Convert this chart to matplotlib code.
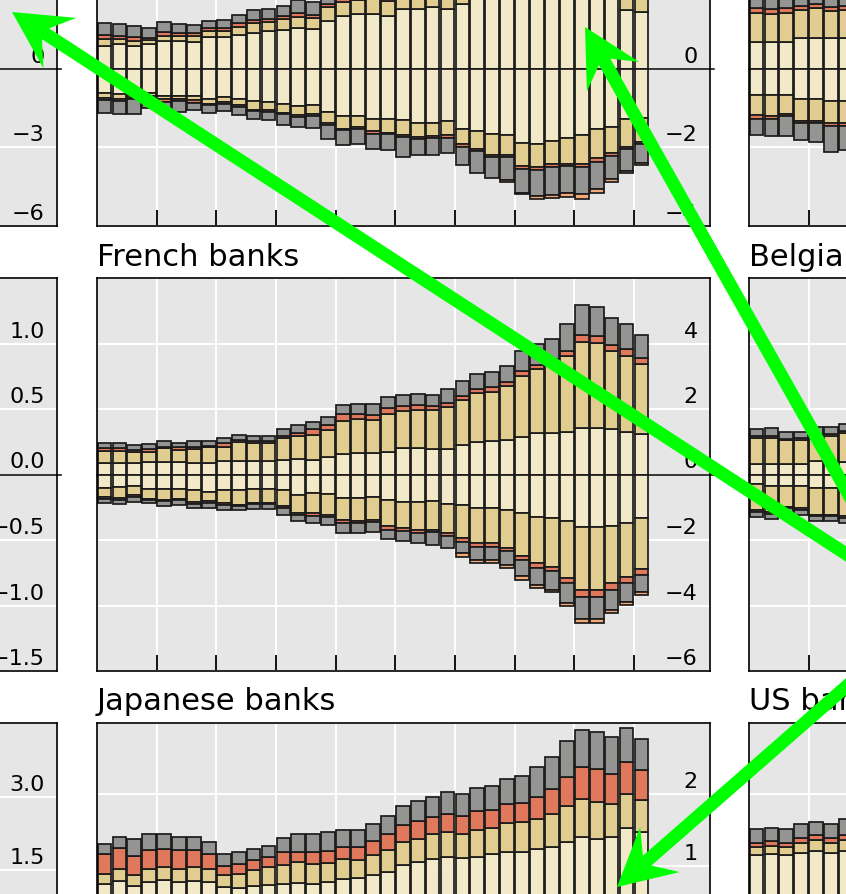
import numpy as np
import matplotlib
matplotlib.use("Agg")
import matplotlib.pyplot as plt
from matplotlib.patches import Polygon

plt.rcParams['font.family'] = ['DejaVu Sans']

W, H = 846, 894

LIGHT = '#F2E9C9'
TAN = '#E2CD90'
RED = '#E0785C'
GREY = '#949593'
PEACH = '#F4AA78'
BG = '#E6E6E6'
EDGE = '#1A1A1A'

# ---- top row, centre panel (quarterly, 37 bars) ----
top_light_pos = [.59, .62, .59, .62, .70, .72, .68, .80, .82, .86, .91, .95, .99, 1.04, 1.01, 1.22, 1.35, 1.39, 1.39,
                 1.35, 1.52, 1.52, 1.56, 1.52, 1.66, 1.85, 1.95, 2.0, 2.2, 2.25, 2.2, 2.15, 2.1, 2.0, 1.85, 1.49, 1.45]
top_tan_pos = [.17, .14, .13, .11, .14, .12, .16, .17, .15, .21, .25, .23, .28, .28, .28, .36, .34, .35, .38, .38,
               .40, .42, .40, .44, .42, .45, .46, .48, .50, .52, .50, .48, .50, .48, .46, .44, .42]
top_red_pos = [.11, .08, .08, .05, .09, .07, .06, .07, .07, .09, .08, .09, .08, .10, .09, .07, .09, .09, .09, .09,
               .10, .10, .10, .11, .10, .11, .12, .12, .12, .13, .12, .12, .13, .12, .12, .11, .10]
top_grey_pos = [.29, .30, .30, .26, .25, .23, .22, .18, .20, .22, .25, .25, .25, .34, .31, .30, .30, .30, .32, .32,
                .33, .34, .34, .35, .36, .37, .38, .40, .42, .44, .43, .42, .42, .40, .38, .36, .35]
top_light_neg = [.62, .65, .69, .62, .68, .69, .68, .78, .72, .78, .82, .84, .89, .95, .93, 1.10, 1.21, 1.21, 1.27,
                 1.27, 1.31, 1.39, 1.39, 1.32, 1.52, 1.58, 1.66, 1.69, 1.90, 1.92, 1.83, 1.75, 1.69, 1.54, 1.48,
                 1.27, 1.25]
top_tan_neg = [.12, .13, .05, .07, .10, .09, .12, .11, .12, .15, .22, .21, .23, .23, .23, .28, .31, .27, .32, .36,
               .38, .34, .32, .37, .40, .45, .53, .50, .57, .57, .59, .66, .73, .74, .66, .71, .62]
top_red_neg = [.06, .05, .04, .04, .06, .05, .06, .02, .05, .04, .04, .05, .04, .04, .05, .05, .04, .06, .06, .04,
               .04, .06, .06, .06, .06, .05, .05, .05, .09, .08, .09, .06, .09, .08, .07, .06, .05]
top_grey_neg = [.32, .31, .36, .27, .24, .27, .19, .21, .19, .21, .20, .21, .26, .26, .29, .36, .38, .38, .38, .40,
                .51, .40, .42, .40, .47, .56, .54, .59, .59, .66, .70, .69, .68, .70, .60, .55, .47]
top_peach_neg = [0] * 27 + [.04, .03, .08, .08, .09, .12, .10, .08, .05, .06]

# ---- French banks ----
fr_light_pos = [.34, .34, .34, .37, .39, .37, .35, .35, .40, .42, .42, .40, .45, .47, .45, .53, .63, .65, .65, .70,
                .80, .80, .78, .78, .91, .98, 1.03, 1.05, 1.16, 1.28, 1.28, 1.30, 1.43, 1.41, 1.38, 1.31, 1.23]
fr_tan_pos = [.39, .39, .34, .31, .41, .39, .43, .48, .45, .56, .54, .56, .66, .71, .76, .83, 1.01, 1.04, 1.02, 1.14,
              1.14, 1.16, 1.18, 1.28, 1.35, 1.51, 1.50, 1.65, 1.84, 1.94, 2.12, 2.33, 2.63, 2.62, 2.38, 2.32, 2.14]
fr_red_pos = [.07, .07, .08, .10, .05, .07, .07, .05, .10, .07, .07, .07, .07, .10, .17, .16, .20, .17, .15, .20,
              .15, .16, .13, .13, .15, .13, .14, .12, .15, .13, .14, .15, .20, .20, .20, .20, .19]
fr_grey_pos = [.15, .15, .14, .15, .16, .14, .16, .15, .15, .16, .16, .16, .22, .23, .23, .25, .28, .30, .32, .32,
               .35, .34, .35, .41, .44, .45, .45, .50, .61, .63, .59, .82, .91, .89, .81, .76, .70]
fr_light_neg = [.40, .38, .36, .43, .45, .43, .48, .52, .48, .46, .43, .45, .48, .62, .57, .59, .72, .72, .69, .79,
                .84, .84, .82, .89, .94, 1.02, 1.02, 1.09, 1.19, 1.31, 1.34, 1.41, 1.60, 1.60, 1.58, 1.47, 1.34]
fr_tan_neg = [.29, .33, .28, .31, .32, .31, .36, .30, .39, .46, .43, .41, .49, .57, .62, .65, .67, .69, .70, .79,
              .79, .86, .88, .91, 1.01, 1.08, 1.08, 1.16, 1.29, 1.40, 1.47, 1.75, 1.94, 1.94, 1.73, 1.66, 1.55]
fr_red_neg = [.06, .06, .05, .03, .04, .05, .05, .05, .05, .05, .03, .04, .04, .05, .07, .05, .10, .08, .07, .10,
              .09, .10, .07, .07, .10, .10, .10, .08, .13, .13, .13, .15, .20, .20, .23, .18, .17]
fr_grey_neg = [.12, .12, .15, .10, .16, .15, .13, .14, .15, .12, .16, .16, .23, .17, .23, .26, .31, .31, .29, .30,
               .30, .30, .38, .38, .35, .41, .41, .43, .50, .52, .58, .61, .68, .68, .60, .59, .54]
fr_peach_neg = [0] * 24 + [.11, .08, .08, .08, .10, .10, .08, .08, .11, .11, .10, .07, .07]

# ---- Japanese banks ----
jp_light = [.75, .79, .72, .77, .80, .78, .79, .77, .70, .69, .72, .73, .74, .76, .75, .77, .81, .83, .87, .91,
            1.01, 1.06, 1.10, 1.13, 1.11, 1.13, 1.16, 1.20, 1.20, 1.23, 1.26, 1.33, 1.40, 1.38, 1.40, 1.53, 1.48]
jp_tan = [.14, .16, .15, .19, .19, .18, .19, .19, .17, .20, .22, .26, .27, .30, .28, .27, .28, .25, .28, .31,
          .32, .31, .34, .34, .34, .37, .37, .40, .41, .42, .46, .51, .54, .52, .47, .47, .44]
jp_red = [.27, .30, .27, .26, .25, .26, .24, .20, .13, .13, .14, .14, .19, .14, .17, .17, .17, .18, .20, .23,
          .24, .26, .24, .25, .25, .27, .25, .26, .27, .32, .36, .41, .44, .46, .41, .46, .42]
jp_grey = [.15, .15, .23, .22, .20, .19, .19, .18, .16, .17, .16, .15, .19, .25, .24, .26, .24, .24, .24, .25,
           .27, .28, .29, .31, .31, .32, .34, .36, .38, .41, .45, .50, .52, .52, .53, .47, .44]

# ---- right column, first quarters ----
tr_light_pos = [.68, .68, .68, .78, .78, .78, .78]
tr_tan_pos = [.75, .72, .75, .72, .77, .68, .72]
tr_red_pos = [.12, .13, .12, .11, .10, .12, .11]
tr_grey_pos = [.30, .30, .30, .30, .25, .30, .30]
tr_light_neg = [.66, .66, .66, .77, .77, .81, .81]
tr_tan_neg = [.51, .55, .48, .55, .55, .58, .58]
tr_red_neg = [.10, .07, .07, .07, .07, .07, .07]
tr_grey_neg = [.41, .42, .51, .43, .48, .65, .61]

be_light_pos = [.31, .33, .33, .33, .40, .38, .38]
be_tan_pos = [.81, .79, .72, .72, .79, .81, .90]
be_red_pos = [.05, .05, .04, .06, .05, .05, .05]
be_grey_pos = [.22, .24, .22, .20, .20, .20, .20]
be_light_neg = [.30, .34, .34, .34, .42, .42, .40]
be_tan_neg = [.78, .81, .65, .68, .81, .81, .87]
be_red_neg = [.05, .05, .04, .05, .05, .05, .05]
be_grey_neg = [.17, .15, .22, .17, .15, .15, .17]

us_light = [1.15, 1.17, 1.15, 1.18, 1.21, 1.18, 1.21]
us_tan = [.11, .11, .11, .14, .15, .14, .15]
us_red = [.06, .07, .06, .07, .07, .07, .07]
us_grey = [.19, .18, .19, .19, .19, .19, .22]

fig = plt.figure(figsize=(W / 100, H / 100), dpi=100)

COLS = [-556, 97, 749]          # panel left edges, px
ROWS = [-167, 278, 723]         # panel top edges, px
PW, PH = 613, 393
LABEL_UP = 12                   # value labels sit this many px above their gridline


def minus(s):
    return s.replace('-', '\u2212')


def panel(col, row, ylim, step, fmt, title=None):
    l, t = COLS[col], ROWS[row]
    lo, hi = ylim
    ax = fig.add_axes([l / W, 1 - (t + PH) / H, PW / W, PH / H])
    ax.set_facecolor(BG)
    ax.set_xlim(0, 41.1)
    ax.set_ylim(lo, hi)
    ticks = np.arange(np.ceil(lo / step - 1e-9) * step, hi + step / 2, step)
    ticks = ticks[ticks <= hi + 1e-9]
    ax.set_xticks(np.arange(4, 37, 4))
    ax.set_yticks(ticks)
    ax.grid(True, color='white', lw=1.4)
    ax.set_axisbelow(True)
    ax.tick_params(axis='x', direction='in', length=11.5, width=1.3, color='black',
                   labelbottom=False)
    ax.tick_params(axis='y', length=0, labelleft=False)
    for sp in ax.spines.values():
        sp.set_linewidth(1.2)
        sp.set_color('black')
        sp.set_zorder(5)
    ax.axhline(0, color='black', lw=1.1, xmax=1.006, clip_on=False, zorder=1.5)
    for v in ticks:
        if abs(v - hi) < 1e-9:
            continue  # the top value has no room inside the frame
        y_px = t + (hi - v) / (hi - lo) * PH - LABEL_UP
        if y_px < 6 or y_px > H - 6:
            continue
        ax.annotate(minus(fmt.format(v + 0.0)), xy=(0.98, v), xycoords=('axes fraction', 'data'),
                    xytext=(0, LABEL_UP * 0.72), textcoords='offset points', ha='right', va='center',
                    fontsize=16, color='black')
    if title:
        ax.annotate(title, xy=(0, 1), xycoords='axes fraction', xytext=(0, 9),
                    textcoords='offset points', ha='left', va='baseline', fontsize=22)
    return ax


def stack(ax, pos, neg=()):
    n = len(pos[0])
    x = np.arange(n) + 0.5
    base = np.zeros(n)
    for vals, c in zip(pos, [LIGHT, TAN, RED, GREY]):
        v = np.asarray(vals, float)
        m = v > 0
        ax.bar(x[m], v[m], 0.92, bottom=base[m], color=c, edgecolor=EDGE, lw=1.25, zorder=3)
        base = base + v
    base = np.zeros(n)
    for vals, c in zip(neg, [LIGHT, TAN, RED, GREY, PEACH]):
        v = np.asarray(vals, float)
        m = v > 0
        ax.bar(x[m], -v[m], 0.92, bottom=base[m], color=c, edgecolor=EDGE, lw=1.25, zorder=3)
        base = base - v


# left column
panel(0, 0, (-6, 9), 3, '{:.0f}')
panel(0, 1, (-1.5, 1.5), 0.5, '{:.1f}')
panel(0, 2, (-3.5, 4.5), 1.5, '{:.1f}')

# centre column
ax = panel(1, 0, (-4, 6), 2, '{:.0f}')
stack(ax, [top_light_pos, top_tan_pos, top_red_pos, top_grey_pos],
      [top_light_neg, top_tan_neg, top_red_neg, top_grey_neg, top_peach_neg])

ax = panel(1, 1, (-6, 6), 2, '{:.0f}', 'French banks')
stack(ax, [fr_light_pos, fr_tan_pos, fr_red_pos, fr_grey_pos],
      [fr_light_neg, fr_tan_neg, fr_red_neg, fr_grey_neg, fr_peach_neg])

ax = panel(1, 2, (-2.5, 3), 1, '{:.0f}', 'Japanese banks')
stack(ax, [jp_light, jp_tan, jp_red, jp_grey])

# right column
ax = panel(2, 0, (-4, 6), 2, '{:.0f}')
stack(ax, [tr_light_pos, tr_tan_pos, tr_red_pos, tr_grey_pos],
      [tr_light_neg, tr_tan_neg, tr_red_neg, tr_grey_neg])

ax = panel(2, 1, (-6, 6), 2, '{:.0f}', 'Belgian banks')
stack(ax, [be_light_pos, be_tan_pos, be_red_pos, be_grey_pos],
      [be_light_neg, be_tan_neg, be_red_neg, be_grey_neg])

ax = panel(2, 2, (-2.5, 3), 1, '{:.0f}', 'US banks')
stack(ax, [us_light, us_tan, us_red, us_grey])

# green pointer arrows drawn in pixel space on top of everything
ov = fig.add_axes([0, 0, 1, 1])
ov.set_xlim(0, W)
ov.set_ylim(H, 0)
ov.axis('off')
ov.set_zorder(20)
ov.patch.set_alpha(0)


def arrow(tail, tip, head_len=57, head_half=30, neck=40, shaft_half=6.5):
    tail = np.array(tail, float)
    tip = np.array(tip, float)
    d = (tip - tail) / np.linalg.norm(tip - tail)
    n = np.array([-d[1], d[0]])
    pts = [tip,
           tip - d * head_len + n * head_half,
           tip - d * neck + n * shaft_half,
           tail + n * shaft_half,
           tail - n * shaft_half,
           tip - d * neck - n * shaft_half,
           tip - d * head_len - n * head_half]
    ov.add_patch(Polygon(pts, closed=True, facecolor='#00FF00', edgecolor='none'))


arrow((880, 576), (12, 12))
arrow((880, 550), (585, 27))
arrow((880, 657), (617, 887))

fig.savefig('out.png', dpi=100)
